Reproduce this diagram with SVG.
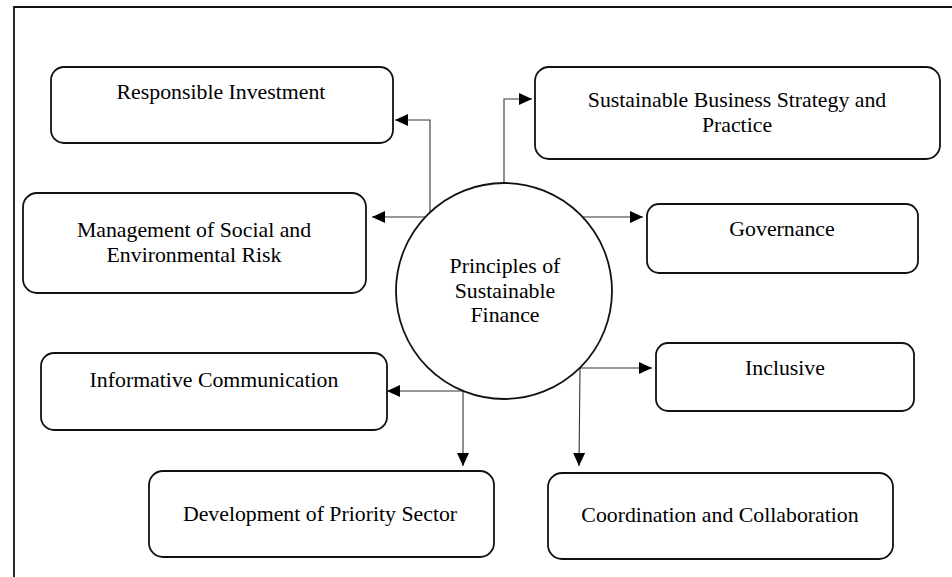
<svg xmlns="http://www.w3.org/2000/svg" width="952" height="577" viewBox="0 0 952 577">
  <style>
    .box { fill: #ffffff; stroke: #111111; stroke-width: 1.8; }
    .hub { fill: #ffffff; stroke: #111111; stroke-width: 1.8; }
    .label { font-family: 'Liberation Serif', 'Times New Roman', serif; font-size: 21.8px; fill: #000000; text-anchor: middle; }
    .link { fill: none; stroke: #333333; stroke-width: 1.1; marker-end: url(#arrow); }
    .frame { fill: none; stroke: #111111; stroke-width: 1.8; }
  </style>
  <defs>
    <marker id="arrow" markerUnits="userSpaceOnUse" markerWidth="13" markerHeight="12" refX="13" refY="6" orient="auto">
      <path d="M0,0 L13,6 L0,12 Z" fill="#000000"/>
    </marker>
  </defs>

  <rect width="952" height="577" fill="#ffffff"/>
  <!-- outer frame (top and left edges) -->
  <path class="frame" d="M14,577 V7 H952"/>

  <g id="connectors">
    <path class="link" d="M430,212 V120 H395"/>
    <path class="link" d="M426,217 H372"/>
    <path class="link" d="M504,183 V99 H532"/>
    <path class="link" d="M582,217 H643"/>
    <path class="link" d="M580,368 H652"/>
    <path class="link" d="M580,368 L579,466"/>
    <path class="link" d="M463,391 H387"/>
    <path class="link" d="M463,391 V466"/>
  </g>

  <g id="hub">
    <circle class="hub" cx="504" cy="291" r="108"/>
    <text class="label" x="505" y="273">Principles of</text>
    <text class="label" x="505" y="298">Sustainable</text>
    <text class="label" x="505" y="322">Finance</text>
  </g>

  <g id="responsible-investment">
    <rect class="box" x="51" y="67" width="342" height="76" rx="13"/>
    <text class="label" x="221" y="99">Responsible Investment</text>
  </g>

  <g id="management-risk">
    <rect class="box" x="23" y="193" width="343" height="100" rx="14"/>
    <text class="label" x="194" y="237">Management of Social and</text>
    <text class="label" x="194" y="262">Environmental Risk</text>
  </g>

  <g id="business-strategy">
    <rect class="box" x="535" y="67" width="405" height="92" rx="14"/>
    <text class="label" x="737" y="107">Sustainable Business Strategy and</text>
    <text class="label" x="737" y="132">Practice</text>
  </g>

  <g id="governance">
    <rect class="box" x="647" y="204" width="271" height="69" rx="12"/>
    <text class="label" x="782" y="236">Governance</text>
  </g>

  <g id="inclusive">
    <rect class="box" x="656" y="343" width="258" height="68" rx="12"/>
    <text class="label" x="785" y="375">Inclusive</text>
  </g>

  <g id="informative-communication">
    <rect class="box" x="41" y="353" width="346" height="77" rx="13"/>
    <text class="label" x="214" y="387">Informative Communication</text>
  </g>

  <g id="priority-sector">
    <rect class="box" x="149" y="471" width="345" height="86" rx="14"/>
    <text class="label" x="320" y="521">Development of Priority Sector</text>
  </g>

  <g id="coordination">
    <rect class="box" x="548" y="473" width="345" height="86" rx="14"/>
    <text class="label" x="720" y="522">Coordination and Collaboration</text>
  </g>
</svg>
